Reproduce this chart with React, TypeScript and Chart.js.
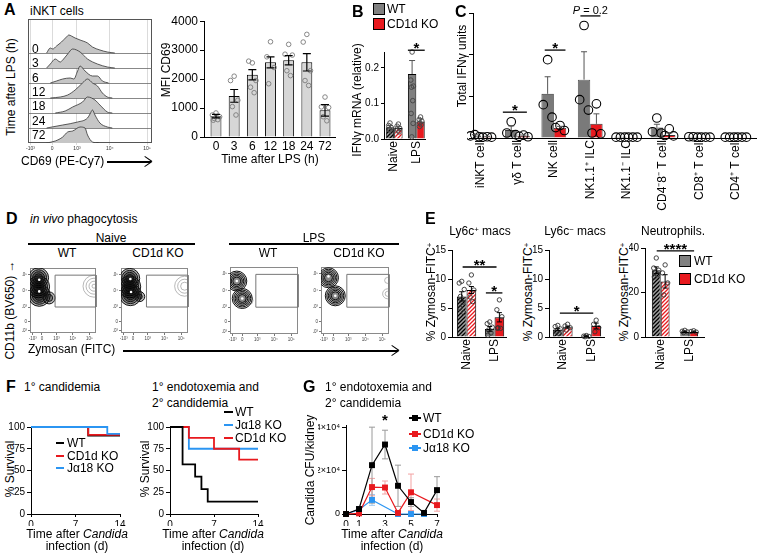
import React, { useEffect, useRef } from "react";
import { Chart, registerables } from "chart.js";

Chart.register(...registerables);

const FONT = "'Liberation Sans', Arial, Helvetica, sans-serif";
Chart.defaults.font.family = FONT;
Chart.defaults.color = "#000";

/* ============================ DATA ============================ */

// Panel A (left): CD69 histograms, x = position on CD69 axis (0-100), h = height
const HIST_LABELS = ["0", "3", "6", "12", "18", "24", "72"];
const HIST_0H_X = [15, 18, 20, 23, 27, 31, 33, 35, 38, 42, 48, 52, 58, 64, 70];
const HIST_0H_H = [0, 5, 4, 7, 11, 16, 18, 17, 15, 13, 10, 6, 3, 1, 0];
const HIST_3H_X = [15, 18, 22, 26, 28, 32, 36, 42, 48, 56, 64, 70];
const HIST_3H_H = [0, 4, 9, 6, 8, 14, 19, 16, 9, 4, 1, 0];
const HIST_6H_X = [18, 23, 28, 34, 37, 40, 42, 46, 52, 56, 60, 65];
const HIST_6H_H = [0, 2, 4, 5, 4, 12, 17, 12, 7, 7, 2, 0];
const HIST_12H_X = [18, 26, 32, 38, 44, 48, 52, 56, 60, 64, 68];
const HIST_12H_H = [0, 1, 3, 8, 15, 19, 15, 12, 5, 1, 0];
const HIST_18H_X = [22, 30, 36, 44, 48, 54, 58, 64, 68];
const HIST_18H_H = [0, 2, 6, 11, 16, 13, 8, 1, 0];
const HIST_24H_X = [15, 28, 40, 48, 50, 52, 54, 58, 64, 68];
const HIST_24H_H = [0, 3, 6, 10, 14, 18, 13, 5, 1, 0];
const HIST_72H_X = [15, 22, 28, 32, 36, 42, 46, 48, 52, 57];
const HIST_72H_H = [0, 2, 6, 11, 12, 16, 15, 8, 1, 0];
const HIST_TICKS = [2, 19.5, 39.5, 66, 96];
const HIST_TICK_LABELS = ["-10³", "0", "10³", "10⁴", "10⁵"];

// Panel A (right): MFI CD69
const A_TIMES = ["0", "3", "6", "12", "18", "24", "72"];
const A_MEAN = [720, 1420, 2150, 2580, 2650, 2580, 920];
const A_SEM = [60, 220, 180, 190, 160, 300, 200];
const A_PTS = [
  [830, 760, 700, 640, 600, 580],
  [2100, 1950, 1270, 1050, 760],
  [2560, 2620, 1950, 1720, 1530],
  [3290, 2770, 2400, 1840],
  [3200, 2860, 2830, 2290, 2120],
  [3545, 3280, 2290, 1950, 1780],
  [1380, 1040, 1020, 700, 560],
];
const A_Y_TICKS = [0, 1000, 2000, 3000, 4000];

// Panel B: IFNγ mRNA
const B_GROUPS = ["Naive", "LPS"];
const B_WT_MEAN = [0.033, 0.183];
const B_WT_SEM = [0.005, 0.038];
const B_KO_MEAN = [0.031, 0.049];
const B_KO_SEM = [0.004, 0.008];
const B_WT_PTS = [
  [0.045, 0.038, 0.032, 0.027, 0.022],
  [0.245, 0.166, 0.149, 0.146, 0.108, 0.072, 0.044, 0.006],
];
const B_KO_PTS = [
  [0.042, 0.036, 0.03, 0.025, 0.02],
  [0.062, 0.055, 0.05, 0.045, 0.04, 0.035],
];
const B_Y_TICKS = [0, 0.1, 0.2];
const B_SIG = [{ from: 0.62, to: 1.38, y: 0.25, label: "*" }];

// Panel C: total IFNγ units
const C_CELLS = ["iNKT cell", "γδ T cell", "NK cell", "NK1.1⁺ ILC", "NK1.1⁻ ILC", "CD4⁻8⁻ T cell", "CD8⁺ T cell", "CD4⁺ T cell"];
const C_WT_MEAN = [0.06, 0.19, 1.06, 1.4, 0.03, 0.25, 0.03, 0.02];
const C_WT_SEM = [0.02, 0.1, 0.41, 0.67, 0, 0.08, 0, 0];
const C_KO_MEAN = [0.03, 0.05, 0.24, 0.34, 0.02, 0.07, 0.02, 0.02];
const C_KO_SEM = [0.01, 0.02, 0.04, 0.24, 0, 0.05, 0, 0];
const C_WT_PTS = [[0.08, 0.05, 0.03], [0.39, 0.12, 0.08], [1.88, 0.8, 0.5], [2.7, 0.92, 0.67], [0.02, 0.02, 0.02], [0.48, 0.15, 0.12], [0.03, 0.03, 0.02], [0.02, 0.02, 0.02]];
const C_KO_PTS = [[0.03, 0.02, 0.02], [0.07, 0.04, 0.03], [0.3, 0.25, 0.18], [0.82, 0.12, 0.1], [0.02, 0.02, 0.02], [0.22, 0.06, 0.05], [0.02, 0.02, 0.02], [0.02, 0.02, 0.02]];
const C_Y_TICKS = [0, 1, 2, 3];
const C_SIG = [
  { from: 0.6, to: 1.26, y: 0.62, label: "*" },
  { from: 1.75, to: 2.32, y: 2.11, label: "*" },
  { from: 2.73, to: 3.28, y: 2.93, label: "P = 0.2" },
];

// Panel D: flow contour levels (x, y in 0-100 plot units, r = contour radius)
const D_GATE_X = [38, 100];
const D_GATE_Y = [40, 89];
const D_TICKS = [4, 18, 40, 65, 90];
const D_TICK_LABELS = ["-10³", "0", "10³", "10⁴", "10⁵"];
const D_NAIVE_WT = [
  { x: 13, y: 85, r: 10 }, { x: 13, y: 85, r: 8 }, { x: 13, y: 85, r: 6 }, { x: 13, y: 85, r: 4 },
  { x: 13, y: 71, r: 11 }, { x: 13, y: 71, r: 9 }, { x: 13, y: 71, r: 7 }, { x: 13, y: 71, r: 5 },
  { x: 14, y: 58, r: 11 }, { x: 14, y: 58, r: 9 }, { x: 14, y: 58, r: 7 }, { x: 14, y: 58, r: 5 },
  { x: 29, y: 54, r: 6 }, { x: 29, y: 54, r: 3.5 },
];
const D_NAIVE_WT_FAINT = [{ x: 97, y: 72, r: 11 }, { x: 97, y: 72, r: 8 }, { x: 97, y: 72, r: 5 }, { x: 97, y: 72, r: 2 }];
const D_NAIVE_WT_PEAKS = [{ x: 14, y: 82 }, { x: 14, y: 64 }];
const D_NAIVE_KO = [
  { x: 13, y: 84, r: 10 }, { x: 13, y: 84, r: 8 }, { x: 13, y: 84, r: 6 }, { x: 13, y: 84, r: 4 },
  { x: 13, y: 71, r: 11 }, { x: 13, y: 71, r: 9 }, { x: 13, y: 71, r: 7 }, { x: 13, y: 71, r: 5 },
  { x: 14, y: 59, r: 11 }, { x: 14, y: 59, r: 9 }, { x: 14, y: 59, r: 7 }, { x: 14, y: 59, r: 5 },
  { x: 28, y: 56, r: 5 }, { x: 28, y: 56, r: 2.5 },
];
const D_NAIVE_KO_FAINT = [{ x: 95, y: 72, r: 10 }, { x: 95, y: 72, r: 7 }, { x: 95, y: 72, r: 4 }];
const D_NAIVE_KO_PEAKS = [{ x: 14, y: 83 }, { x: 15, y: 63 }];
const D_LPS_WT = [
  { x: 10, y: 79, r: 10 }, { x: 10, y: 79, r: 8.5 }, { x: 10, y: 79, r: 7 }, { x: 10, y: 79, r: 5.5 }, { x: 10, y: 79, r: 4 },
  { x: 18, y: 53, r: 10 }, { x: 18, y: 53, r: 8.5 }, { x: 18, y: 53, r: 7 }, { x: 18, y: 53, r: 5.5 }, { x: 18, y: 53, r: 4 },
];
const D_LPS_WT_FAINT = [{ x: 28, y: 50, r: 4 }];
const D_LPS_WT_PEAKS = [{ x: 10, y: 79 }, { x: 18, y: 53 }];
const D_LPS_KO = [
  { x: 11, y: 84, r: 10 }, { x: 11, y: 84, r: 8.5 }, { x: 11, y: 84, r: 7 }, { x: 11, y: 84, r: 5.5 }, { x: 11, y: 84, r: 4 },
  { x: 21, y: 57, r: 10 }, { x: 21, y: 57, r: 8.5 }, { x: 21, y: 57, r: 7 }, { x: 21, y: 57, r: 5.5 }, { x: 21, y: 57, r: 4 },
];
const D_LPS_KO_FAINT = [{ x: 98, y: 60, r: 5 }, { x: 98, y: 60, r: 2.5 }, { x: 98, y: 80, r: 3 }];
const D_LPS_KO_PEAKS = [{ x: 11, y: 86 }, { x: 21, y: 57 }];

// Panel E: % Zymosan-FITC+
const E_GROUPS = ["Naive", "LPS"];
const E1_WT_MEAN = [7.0, 1.4];
const E1_WT_SEM = [0.8, 0.4];
const E1_KO_MEAN = [8.1, 3.4];
const E1_KO_SEM = [0.6, 0.8];
const E1_WT_PTS = [[9.6, 9.3, 8.2, 7.0, 6.0, 5.0, 4.2], [2.6, 2.3, 1.7, 1.2, 0.7, 0.3]];
const E1_KO_PTS = [[10.7, 9.3, 8.1, 6.9, 6.1], [6.4, 4.7, 3.5, 1.6, 1.5, 1.5]];
const E1_SIG = [
  { from: -0.14, to: 1.07, y: 12.07, label: "**" },
  { from: 0.69, to: 1.28, y: 7.6, label: "*" },
];
const E2_WT_MEAN = [1.3, 0.15];
const E2_WT_SEM = [0.2, 0.05];
const E2_KO_MEAN = [1.7, 1.9];
const E2_KO_SEM = [0.15, 0.5];
const E2_WT_PTS = [[2.0, 1.8, 1.4, 1.0, 0.6], [0.25, 0.15, 0.1, 0.05]];
const E2_KO_PTS = [[2.2, 1.9, 1.6, 1.2], [2.9, 2.2, 1.6, 0.9]];
const E2_SIG = [{ from: -0.1, to: 1.07, y: 4.1, label: "*" }];
const E3_WT_MEAN = [30, 2.3];
const E3_WT_SEM = [1.5, 0.3];
const E3_KO_MEAN = [25, 2.3];
const E3_KO_SEM = [3, 0.3];
const E3_WT_PTS = [[35.5, 31, 30, 29, 28, 27], [3, 2.6, 2.3, 2]];
const E3_KO_PTS = [[32.4, 28.8, 24.3, 18.9], [2.8, 2.5, 2.2]];
const E3_SIG = [{ from: -0.14, to: 1.17, y: 38.7, label: "****" }];
const E12_Y_TICKS = [0, 5, 10, 15];
const E3_Y_TICKS = [0, 20, 40];

// Panel F: survival (event day, % survival)
const F_DAY_TICKS = [0, 7, 14];
const F_Y_TICKS = [0, 25, 50, 75, 100];
const F1_WT_T = [0, 9, 14];
const F1_WT_S = [100, 90, 90];
const F1_CD1D_T = [0, 9, 14];
const F1_CD1D_S = [100, 91, 91];
const F1_JA18_T = [0, 12, 14];
const F1_JA18_S = [100, 92, 92];
const F2_WT_T = [0, 2, 4, 5, 6, 14];
const F2_WT_S = [100, 57.1, 42.9, 28.6, 14.3, 14.3];
const F2_CD1D_T = [0, 3, 7, 11, 14];
const F2_CD1D_S = [100, 87.5, 75, 62.5, 62.5];
const F2_JA18_T = [0, 3, 14];
const F2_JA18_S = [100, 75, 75];

// Panel G: Candida CFU / kidney
const G_DAYS = [0, 1, 2, 3, 4, 5, 6, 7];
const G_DAY_TICKS = [0, 1, 3, 5, 7];
const G_Y_TICKS = [0, 20000, 40000];
const G_WT = [0, 2300, 22500, 32000, 13000, 5500, 500, 11000];
const G_WT_ERR = [0, 800, 17500, 6600, 9500, 2000, 300, 6200];
const G_CD1D = [0, 300, 12400, 12200, 500, 10000, null, 4100];
const G_CD1D_ERR = [0, 300, 4000, 3000, 800, 8400, null, 2800];
const G_JA18 = [0, 2000, 6500, null, 0, 0, 0, null];
const G_JA18_ERR = [0, 500, 2500, null, 200, 200, 200, null];
const G_SIG = [{ from: 3, to: 3, y: 42300, label: "*" }];

/* ============================ STYLE ============================ */
const WT_GRAY = "#808080";
const KO_RED = "#e8191e";
const BLUE = "#2b95f2";
const ROW_STEP = 15;
const JIT = [0, -1, 1, -0.5, 0.5, -0.75, 0.75, -0.25, 0.25];

function jitterPoints(pts: number[][], off: number, spread: number) {
  const out: any[] = [];
  pts.forEach((arr, i) => arr.forEach((v, k) => out.push({ x: i + off + JIT[k % JIT.length] * spread, y: v })));
  return out;
}

function hatch(ctx: CanvasRenderingContext2D, line: string, bg: string) {
  const s = 4;
  const c = document.createElement("canvas");
  c.width = s;
  c.height = s;
  const g = c.getContext("2d")!;
  g.fillStyle = bg;
  g.fillRect(0, 0, s, s);
  g.strokeStyle = line;
  g.lineWidth = 1.3;
  g.beginPath();
  g.moveTo(0, s);
  g.lineTo(s, 0);
  g.moveTo(-1, 1);
  g.lineTo(1, -1);
  g.moveTo(s - 1, s + 1);
  g.lineTo(s + 1, s - 1);
  g.stroke();
  return ctx.createPattern(c, "repeat");
}

/* ============================ PLUGINS ============================ */
function makeErr(when: "before" | "after") {
  const draw = (chart: any) => {
    const ctx = chart.ctx;
    chart.data.datasets.forEach((ds: any, di: number) => {
      if (!ds.errors) return;
      const meta = chart.getDatasetMeta(di);
      const ys = chart.scales[meta.yAxisID];
      ctx.save();
      ctx.strokeStyle = ds.errColor || "#000";
      ctx.lineWidth = ds.errWidth || 1;
      meta.data.forEach((el: any, i: number) => {
        const raw = ds.data[i];
        const v = raw == null ? null : typeof raw === "number" ? raw : raw.y;
        const e = ds.errors[i];
        if (v == null || e == null || !e) return;
        const x = el.x;
        const cap = ds.errCap ?? 3;
        const yt = ys.getPixelForValue(v + e);
        const yb = ys.getPixelForValue(ds.errUpOnly ? v : Math.max(v - e, ys.min));
        ctx.beginPath();
        ctx.moveTo(x, yt);
        ctx.lineTo(x, yb);
        ctx.moveTo(x - cap, yt);
        ctx.lineTo(x + cap, yt);
        if (!ds.errUpOnly) {
          ctx.moveTo(x - cap, yb);
          ctx.lineTo(x + cap, yb);
        }
        ctx.stroke();
      });
      ctx.restore();
    });
  };
  return when === "before" ? { id: "errb", beforeDatasetsDraw: draw } : { id: "erra", afterDatasetsDraw: draw };
}

function makeSig(items: any[]) {
  return {
    id: "sig",
    afterDatasetsDraw(chart: any) {
      const xs = chart.scales.x;
      const ys = chart.scales.y;
      const ctx = chart.ctx;
      ctx.save();
      items.forEach((it) => {
        const x1 = xs.getPixelForValue(it.from);
        const x2 = xs.getPixelForValue(it.to);
        const y = ys.getPixelForValue(it.y);
        if (it.from !== it.to) {
          ctx.strokeStyle = "#000";
          ctx.lineWidth = 1.3;
          ctx.beginPath();
          ctx.moveTo(x1, y);
          ctx.lineTo(x2, y);
          ctx.stroke();
        }
        ctx.fillStyle = "#000";
        ctx.textBaseline = "alphabetic";
        const cx = (x1 + x2) / 2;
        if (it.label.startsWith("P")) {
          ctx.font = `italic 11px ${FONT}`;
          const wP = ctx.measureText("P").width;
          ctx.font = `11px ${FONT}`;
          const wR = ctx.measureText(" = 0.2").width;
          const start = cx - (wP + wR) / 2;
          ctx.textAlign = "left";
          ctx.font = `italic 11px ${FONT}`;
          ctx.fillText("P", start, y - 2);
          ctx.font = `11px ${FONT}`;
          ctx.fillText(" = 0.2", start + wP, y - 2);
        } else {
          ctx.font = `bold 15px ${FONT}`;
          ctx.textAlign = "center";
          ctx.fillText(it.label, cx, y + 3);
        }
      });
      ctx.restore();
    },
  };
}

function makeFrame(color: string, lw: number, rows = 0) {
  return {
    id: "frame",
    beforeDatasetsDraw(chart: any) {
      const { ctx, chartArea: a } = chart;
      ctx.save();
      ctx.strokeStyle = color;
      ctx.lineWidth = lw;
      ctx.strokeRect(a.left + 0.5, a.top + 0.5, a.width - 1, a.height - 1);
      if (rows) {
        ctx.strokeStyle = "#6a6a6a";
        ctx.lineWidth = 0.8;
        for (let r = 1; r < rows; r++) {
          const y = Math.round(chart.scales.y.getPixelForValue(r * ROW_STEP)) + 0.5;
          ctx.beginPath();
          ctx.moveTo(a.left, y);
          ctx.lineTo(a.right, y);
          ctx.stroke();
        }
      }
      ctx.restore();
    },
  };
}

/* ============================ SCALE HELPERS ============================ */
const baseOpts = (padding: any) => ({
  animation: false,
  responsive: false,
  events: [],
  layout: { padding },
  plugins: { legend: { display: false }, tooltip: { enabled: false } },
});

function yAxis(min: number, max: number, ticks: number[], wy: number, size: number, fmt: (v: number) => string, show = true, tickLen = 4) {
  return {
    type: "linear",
    min,
    max,
    afterBuildTicks: (s: any) => {
      s.ticks = ticks.map((v) => ({ value: v }));
    },
    afterFit: (s: any) => {
      s.width = wy;
    },
    ticks: { display: show, font: { size }, color: "#000", padding: 2, callback: (v: any) => fmt(v) },
    grid: { drawOnChartArea: false, tickLength: tickLen, color: "#000", lineWidth: 1 },
    border: { color: "#000", width: 1 },
  };
}

function xLinear(min: number, max: number, ticks: number[], hx: number, size: number, fmt: (v: number) => string, rot = 0, tickMarks = false) {
  return {
    type: "linear",
    offset: false,
    min,
    max,
    afterBuildTicks: (s: any) => {
      s.ticks = ticks.map((v) => ({ value: v }));
    },
    afterFit: (s: any) => {
      s.height = hx;
    },
    ticks: { font: { size }, color: "#000", padding: 2, minRotation: rot, maxRotation: rot, autoSkip: false, callback: (v: any) => fmt(v) },
    grid: tickMarks
      ? { drawOnChartArea: false, tickLength: 3, color: "#000" }
      : { display: false, drawTicks: false },
    border: { color: "#000", width: 1 },
  };
}

/* ============================ CONFIGS ============================ */
function histConfig(padding: any, hx: number) {
  const rows = [
    [HIST_0H_X, HIST_0H_H],
    [HIST_3H_X, HIST_3H_H],
    [HIST_6H_X, HIST_6H_H],
    [HIST_12H_X, HIST_12H_H],
    [HIST_18H_X, HIST_18H_H],
    [HIST_24H_X, HIST_24H_H],
    [HIST_72H_X, HIST_72H_H],
  ];
  const n = rows.length;
  return {
    type: "line",
    data: {
      datasets: rows.map(([xs, hs], r) => {
        const base = (n - 1 - r) * ROW_STEP;
        return {
          data: xs.map((x, k) => ({ x, y: base + hs[k] })),
          fill: { value: base },
          backgroundColor: "#c6c6c6",
          borderColor: "#333",
          borderWidth: 0.8,
          pointRadius: 0,
          cubicInterpolationMode: "monotone",
          order: n - 1 - r,
        };
      }),
    },
    options: {
      ...baseOpts(padding),
      scales: {
        x: {
          type: "linear",
          min: 0,
          max: 100,
          afterBuildTicks: (s: any) => {
            s.ticks = HIST_TICKS.map((v) => ({ value: v }));
          },
          afterFit: (s: any) => {
            s.height = hx;
          },
          ticks: { callback: (_v: any, i: number) => HIST_TICK_LABELS[i], font: { size: 5 }, color: "#333", padding: 1, maxRotation: 0, autoSkip: false },
          grid: { color: "#d2d2d2", lineWidth: 0.8, tickLength: 2 },
          border: { display: false },
        },
        y: { type: "linear", display: false, min: 0, max: 124 },
      },
    },
    plugins: [makeFrame("#555", 1, n)],
  };
}

function barConfig(o: any) {
  const datasets: any[] = [];
  const ng = o.groups.length;
  o.groups.forEach((g: any) => {
    datasets.push({
      type: "bar",
      data: g.mean.map((v: number, i: number) => ({ x: i, y: v })),
      errors: g.sem,
      errColor: o.errColor,
      errUpOnly: o.errUpOnly,
      errCap: o.errCap,
      errWidth: o.errWidth || 1,
      backgroundColor: g.fill,
      borderColor: g.border || "#000",
      borderWidth: o.barBorder ?? 1,
      barPercentage: o.barPct ?? 1,
      categoryPercentage: o.catPct,
      order: 3,
    });
  });
  o.groups.forEach((g: any, gi: number) => {
    const off = ng === 1 ? 0 : gi === 0 ? -o.catPct / 4 : o.catPct / 4;
    datasets.push({
      type: "scatter",
      data: jitterPoints(g.pts, off, o.spread),
      pointRadius: o.ptR,
      pointBorderColor: o.ptColor,
      pointBackgroundColor: "rgba(0,0,0,0)",
      pointBorderWidth: o.ptW,
      clip: false,
      order: 1,
    });
  });
  return {
    type: "bar",
    data: { datasets },
    options: {
      ...baseOpts(o.padding),
      scales: {
        x: xLinear(o.xMin, o.xMax, o.labels.map((_: any, i: number) => i), o.hx, o.xFont, (v) => o.labels[v], o.rot),
        y: yAxis(o.yMin, o.yMax, o.yTicks, o.wy, o.yFont, o.yFmt, o.yLabels !== false, o.yTickLen ?? 4),
      },
    },
    plugins: [makeErr("after"), makeSig(o.sig || [])],
  };
}

function flowConfig(padding: any, wy: number, hx: number, rings: any[], faint: any[], peaks: any[], alpha: number) {
  const gate = [
    { x: D_GATE_X[0], y: D_GATE_Y[0] },
    { x: D_GATE_X[0], y: D_GATE_Y[1] },
    { x: D_GATE_X[1], y: D_GATE_Y[1] },
    { x: D_GATE_X[1], y: D_GATE_Y[0] },
    { x: D_GATE_X[0], y: D_GATE_Y[0] },
  ];
  const tinyAxis = (isX: boolean) => ({
    type: "linear",
    min: 0,
    max: 100,
    afterBuildTicks: (s: any) => {
      s.ticks = D_TICKS.map((v) => ({ value: v }));
    },
    afterFit: (s: any) => {
      if (isX) s.height = hx;
      else s.width = wy;
    },
    ticks: { callback: (_v: any, i: number) => D_TICK_LABELS[i], font: { size: 4.5 }, color: "#444", padding: 1, maxRotation: 0, autoSkip: false },
    grid: { drawOnChartArea: false, tickLength: 2, color: "#777" },
    border: { display: false },
  });
  return {
    type: "bubble",
    data: {
      datasets: [
        { type: "line", data: gate, borderColor: "#777", borderWidth: 1, pointRadius: 0, fill: false, clip: false, order: 0 },
        { type: "bubble", data: rings, backgroundColor: `rgba(0,0,0,${alpha})`, borderColor: "#111", borderWidth: 1, clip: 0, order: 2 },
        { type: "bubble", data: faint, backgroundColor: "rgba(0,0,0,0)", borderColor: "#9a9a9a", borderWidth: 0.7, clip: 0, order: 3 },
        { type: "scatter", data: peaks, pointRadius: 1.3, pointBackgroundColor: "#fff", pointBorderWidth: 0, clip: 0, order: 1 },
      ],
    },
    options: { ...baseOpts(padding), scales: { x: tinyAxis(true), y: tinyAxis(false) } },
    plugins: [makeFrame("#8a8a8a", 1)],
  };
}

function survConfig(padding: any, wy: number, hx: number, series: any[]) {
  return {
    type: "line",
    data: {
      datasets: series.map((sr) => ({
        data: sr.t.map((t: number, k: number) => ({ x: t, y: sr.s[k] })),
        borderColor: sr.color,
        borderWidth: 1.8,
        pointRadius: 0,
        stepped: "before",
        fill: false,
        clip: false,
        order: sr.order,
      })),
    },
    options: {
      ...baseOpts(padding),
      scales: {
        x: xLinear(0, 14, F_DAY_TICKS, hx, 10, (v) => String(v), 0, true),
        y: yAxis(0, 100, F_Y_TICKS, wy, 10, (v) => String(v)),
      },
    },
  };
}

function gConfig(padding: any, wy: number, hx: number) {
  const mk = (vals: any[], errs: any[], color: string, errColor: string, order: number) => ({
    type: "line",
    data: G_DAYS.map((d, k) => ({ x: d, y: vals[k] })),
    errors: errs,
    errColor,
    errCap: 3,
    borderColor: color,
    backgroundColor: color,
    borderWidth: 1.2,
    pointStyle: "rect",
    pointRadius: 4.2,
    pointBackgroundColor: color,
    pointBorderColor: color,
    pointBorderWidth: 0,
    spanGaps: true,
    clip: false,
    order,
  });
  return {
    type: "line",
    data: {
      datasets: [
        mk(G_JA18, G_JA18_ERR, BLUE, "#9cc8f2", 2),
        mk(G_CD1D, G_CD1D_ERR, KO_RED, "#f3a3a3", 1),
        mk(G_WT, G_WT_ERR, "#000", "#9a9a9a", 0),
      ],
    },
    options: {
      ...baseOpts(padding),
      scales: {
        x: xLinear(0, 7, G_DAY_TICKS, hx, 10, (v) => String(v), 0, true),
        y: yAxis(0, 41000, G_Y_TICKS, wy, 9, (v) => (v === 0 ? "0" : `${v / 10000}×10⁴`)),
      },
    },
    plugins: [makeErr("before"), makeSig(G_SIG)],
  };
}

/* ============================ COMPONENTS ============================ */
function ChartBox({ area, wy, hx, pad, make }: any) {
  const ref = useRef<HTMLCanvasElement>(null);
  const left = area.l - wy - pad.l;
  const top = area.t - pad.t;
  const width = area.r + pad.r - left;
  const height = area.b + hx + pad.b - top;
  useEffect(() => {
    const cv = ref.current!;
    const padding = { left: pad.l, top: pad.t, right: pad.r, bottom: pad.b };
    const chart = new Chart(cv, make(cv.getContext("2d"), padding, wy, hx));
    return () => chart.destroy();
  }, []);
  return <canvas ref={ref} width={width} height={height} style={{ position: "absolute", left, top, width, height }} />;
}

function T({ x, y, s = 12, b, i, a = "l", children }: any) {
  const tx = a === "c" ? "-50%" : a === "r" ? "-100%" : "0";
  return (
    <div
      style={{
        position: "absolute",
        left: x,
        top: y,
        transform: `translate(${tx}, -50%)`,
        fontSize: s,
        fontWeight: b ? 700 : 400,
        fontStyle: i ? "italic" : "normal",
        whiteSpace: "nowrap",
        lineHeight: 1,
        fontFamily: FONT,
      }}
    >
      {children}
    </div>
  );
}

function VT({ x, y, s = 12, children }: any) {
  return (
    <div
      style={{
        position: "absolute",
        left: x,
        top: y,
        transform: "translate(-50%, -50%) rotate(-90deg)",
        fontSize: s,
        whiteSpace: "nowrap",
        lineHeight: 1,
        fontFamily: FONT,
      }}
    >
      {children}
    </div>
  );
}

const Sup = ({ children }: any) => <span style={{ fontSize: "0.65em", verticalAlign: "0.45em", lineHeight: 0 }}>{children}</span>;

function HLine({ x1, x2, y, w = 1.2, c = "#000" }: any) {
  return <div style={{ position: "absolute", left: x1, top: y - w / 2, width: x2 - x1, height: w, background: c }} />;
}

function Arrow({ x1, x2, y }: any) {
  return (
    <>
      <HLine x1={x1} x2={x2} y={y} w={1.2} />
      <div style={{ position: "absolute", left: x2 - 8, top: y - 0.6, width: 9, height: 1.2, background: "#000", transformOrigin: "100% 50%", transform: "rotate(35deg)" }} />
      <div style={{ position: "absolute", left: x2 - 8, top: y - 0.6, width: 9, height: 1.2, background: "#000", transformOrigin: "100% 50%", transform: "rotate(-35deg)" }} />
    </>
  );
}

function Swatch({ x, y, color }: any) {
  return <div style={{ position: "absolute", left: x, top: y, width: 10, height: 10, background: color, border: "1px solid #000" }} />;
}

function Dash({ x, y, color, w = 8 }: any) {
  return <div style={{ position: "absolute", left: x, top: y - 1, width: w, height: 2, background: color }} />;
}

function SqMark({ x, y, color }: any) {
  return (
    <>
      <div style={{ position: "absolute", left: x - 6, top: y - 0.6, width: 12, height: 1.2, background: color }} />
      <div style={{ position: "absolute", left: x - 3, top: y - 3, width: 6, height: 6, background: color }} />
    </>
  );
}

/* ============================ APP ============================ */
export default function App() {
  const yNum = (v: number) => String(v);
  const pairGroups = (wm: number[], ws: number[], wp: number[][], km: number[], ks: number[], kp: number[][], ctx: any, hatchNaive: boolean) => [
    { mean: wm, sem: ws, pts: wp, fill: hatchNaive ? [hatch(ctx, "#000", "#a0a0a0"), WT_GRAY] : WT_GRAY },
    { mean: km, sem: ks, pts: kp, fill: hatchNaive ? [hatch(ctx, KO_RED, "#ffffff"), KO_RED] : KO_RED },
  ];
  const eCfg = (ctx: any, padding: any, wy: number, hx: number, xMin: number, xMax: number, yMax: number, yTicks: number[], catPct: number, groups: any[], sig: any[]) =>
    barConfig({
      padding, wy, hx, xMin, xMax, labels: E_GROUPS, xFont: 12, rot: 90,
      yMin: 0, yMax, yTicks, yFont: 10, yFmt: yNum,
      groups, catPct, spread: 0.09, ptR: 2.2, ptColor: "#333", ptW: 0.9,
      errColor: "#000", errCap: 2.5, sig,
    });

  return (
    <div style={{ position: "fixed", left: 0, top: 0, width: 764, height: 557, background: "#fff", overflow: "hidden", fontFamily: FONT }}>
      {/* ---------------- Panel A ---------------- */}
      <T x={4} y={10} s={16} b>A</T>
      <T x={30} y={11}>iNKT cells</T>
      <VT x={11} y={87}>Time after LPS (h)</VT>
      <ChartBox area={{ l: 28, t: 19, r: 152, b: 143 }} wy={0} hx={9} pad={{ l: 8, t: 0, r: 6, b: 0 }} make={(_c: any, p: any, _wy: number, hx: number) => histConfig(p, hx)} />
      {HIST_LABELS.map((l, r) => (
        <T key={l} x={32} y={49 + r * 14.3}>{l}</T>
      ))}
      <T x={21} y={161}>CD69 (PE-Cy7)</T>
      <Arrow x1={107} x2={151} y={162} />

      <VT x={166} y={70}>MFI CD69</VT>
      <ChartBox
        area={{ l: 204, t: 20, r: 335, b: 137 }} wy={40} hx={18} pad={{ l: 2, t: 8, r: 8, b: 0 }}
        make={(_c: any, padding: any, wy: number, hx: number) =>
          barConfig({
            padding, wy, hx, xMin: -0.66, xMax: 6.55, labels: A_TIMES, xFont: 12, rot: 0,
            yMin: 0, yMax: 4000, yTicks: A_Y_TICKS, yFont: 12, yFmt: yNum,
            groups: [{ mean: A_MEAN, sem: A_SEM, pts: A_PTS, fill: "#d6d6d6" }],
            catPct: 1, barPct: 0.6, spread: 0.2, ptR: 2.3, ptColor: "#7a7a7a", ptW: 0.9,
            errColor: "#000", errCap: 4, errWidth: 1.2,
          })
        }
      />
      <T x={270} y={159} a="c">Time after LPS (h)</T>

      {/* ---------------- Panel B ---------------- */}
      <T x={352} y={12} s={16} b>B</T>
      <Swatch x={373} y={3} color={WT_GRAY} />
      <T x={387} y={9}>WT</T>
      <Swatch x={373} y={18} color={KO_RED} />
      <T x={387} y={24}>CD1d KO</T>
      <VT x={357} y={100}>IFNγ mRNA (relative)</VT>
      <ChartBox
        area={{ l: 384, t: 52, r: 428, b: 139 }} wy={22} hx={42} pad={{ l: 2, t: 16, r: 6, b: 0 }}
        make={(ctx: any, padding: any, wy: number, hx: number) =>
          barConfig({
            padding, wy, hx, xMin: -0.46, xMax: 1.4, labels: B_GROUPS, xFont: 12, rot: 90,
            yMin: 0, yMax: 0.245, yTicks: B_Y_TICKS, yFont: 10, yFmt: (v: number) => v.toFixed(1), yTickLen: 3,
            groups: pairGroups(B_WT_MEAN, B_WT_SEM, B_WT_PTS, B_KO_MEAN, B_KO_SEM, B_KO_PTS, ctx, true),
            catPct: 0.76, spread: 0.06, ptR: 2.3, ptColor: "#444", ptW: 0.9,
            errColor: "#555", errUpOnly: true, errCap: 3, sig: B_SIG,
          })
        }
      />

      {/* ---------------- Panel C ---------------- */}
      <T x={455} y={12} s={16} b>C</T>
      <VT x={462} y={66}>Total IFNγ units</VT>
      <ChartBox
        area={{ l: 473, t: 13, r: 758, b: 138 }} wy={6} hx={80} pad={{ l: 0, t: 12, r: 4, b: 0 }}
        make={(_c: any, padding: any, wy: number, hx: number) =>
          barConfig({
            padding, wy, hx, xMin: -0.22, xMax: 7.57, labels: C_CELLS, xFont: 12, rot: 90,
            yMin: 0, yMax: 3, yTicks: C_Y_TICKS, yFont: 10, yFmt: yNum, yLabels: false,
            groups: [
              { mean: C_WT_MEAN, sem: C_WT_SEM, pts: C_WT_PTS, fill: "#7a7a7a", border: "#333" },
              { mean: C_KO_MEAN, sem: C_KO_SEM, pts: C_KO_PTS, fill: KO_RED, border: "#333" },
            ],
            catPct: 0.68, spread: 0.12, ptR: 4.3, ptColor: "#000", ptW: 1.1, barBorder: 0.8,
            errColor: "#555", errUpOnly: true, errCap: 3, sig: C_SIG,
          })
        }
      />

      {/* ---------------- Panel D ---------------- */}
      <T x={6} y={219} s={16} b>D</T>
      <T x={30} y={219}><i>in vivo</i> phagocytosis</T>
      <T x={111} y={238} a="c">Naive</T>
      <HLine x1={28} x2={195} y={244} w={1.2} />
      <T x={67} y={253} a="c">WT</T>
      <T x={158} y={253} a="c">CD1d KO</T>
      <T x={314} y={238} a="c">LPS</T>
      <HLine x1={229} x2={399} y={244} w={1.2} />
      <T x={268} y={253} a="c">WT</T>
      <T x={359} y={253} a="c">CD1d KO</T>
      <VT x={10} y={310}>CD11b (BV650) →</VT>
      <ChartBox area={{ l: 28, t: 258, r: 106, b: 338 }} wy={8} hx={7} pad={{ l: 2, t: 2, r: 2, b: 0 }} make={(_c: any, p: any, wy: number, hx: number) => flowConfig(p, wy, hx, D_NAIVE_WT, D_NAIVE_WT_FAINT, D_NAIVE_WT_PEAKS, 0.3)} />
      <ChartBox area={{ l: 119, t: 258, r: 198, b: 338 }} wy={8} hx={7} pad={{ l: 2, t: 2, r: 2, b: 0 }} make={(_c: any, p: any, wy: number, hx: number) => flowConfig(p, wy, hx, D_NAIVE_KO, D_NAIVE_KO_FAINT, D_NAIVE_KO_PEAKS, 0.3)} />
      <ChartBox area={{ l: 229, t: 258, r: 307, b: 338 }} wy={8} hx={7} pad={{ l: 2, t: 2, r: 2, b: 0 }} make={(_c: any, p: any, wy: number, hx: number) => flowConfig(p, wy, hx, D_LPS_WT, D_LPS_WT_FAINT, D_LPS_WT_PEAKS, 0.12)} />
      <ChartBox area={{ l: 320, t: 258, r: 398, b: 338 }} wy={8} hx={7} pad={{ l: 2, t: 2, r: 2, b: 0 }} make={(_c: any, p: any, wy: number, hx: number) => flowConfig(p, wy, hx, D_LPS_KO, D_LPS_KO_FAINT, D_LPS_KO_PEAKS, 0.12)} />
      <T x={28} y={349}>Zymosan (FITC)</T>
      <Arrow x1={123} x2={398} y={351} />

      {/* ---------------- Panel E ---------------- */}
      <T x={425} y={219} s={16} b>E</T>
      <T x={480} y={231} a="c">Ly6c<Sup>+</Sup> macs</T>
      <T x={575} y={231} a="c">Ly6c<Sup>−</Sup> macs</T>
      <T x={673} y={231} a="c">Neutrophils.</T>
      <VT x={431} y={292}>% Zymosan-FITC<Sup>+</Sup></VT>
      <VT x={528} y={292}>% Zymosan-FITC<Sup>+</Sup></VT>
      <VT x={624} y={292}>% Zymosan-FITC<Sup>+</Sup></VT>
      <ChartBox
        area={{ l: 452, t: 250, r: 508, b: 337 }} wy={16} hx={40} pad={{ l: 2, t: 14, r: 4, b: 0 }}
        make={(ctx: any, p: any, wy: number, hx: number) => eCfg(ctx, p, wy, hx, -0.52, 1.41, 15, E12_Y_TICKS, 0.69, pairGroups(E1_WT_MEAN, E1_WT_SEM, E1_WT_PTS, E1_KO_MEAN, E1_KO_SEM, E1_KO_PTS, ctx, true), E1_SIG)}
      />
      <ChartBox
        area={{ l: 549, t: 250, r: 605, b: 337 }} wy={16} hx={40} pad={{ l: 2, t: 14, r: 4, b: 0 }}
        make={(ctx: any, p: any, wy: number, hx: number) => eCfg(ctx, p, wy, hx, -0.48, 1.45, 15, E12_Y_TICKS, 0.69, pairGroups(E2_WT_MEAN, E2_WT_SEM, E2_WT_PTS, E2_KO_MEAN, E2_KO_SEM, E2_KO_PTS, ctx, true), E2_SIG)}
      />
      <ChartBox
        area={{ l: 645, t: 248, r: 705, b: 337 }} wy={16} hx={40} pad={{ l: 2, t: 14, r: 4, b: 0 }}
        make={(ctx: any, p: any, wy: number, hx: number) => eCfg(ctx, p, wy, hx, -0.55, 1.52, 40, E3_Y_TICKS, 0.62, pairGroups(E3_WT_MEAN, E3_WT_SEM, E3_WT_PTS, E3_KO_MEAN, E3_KO_SEM, E3_KO_PTS, ctx, true), E3_SIG)}
      />
      <Swatch x={679} y={255} color={WT_GRAY} />
      <T x={694} y={261}>WT</T>
      <Swatch x={679} y={273} color={KO_RED} />
      <T x={694} y={279}>CD1d KO</T>

      {/* ---------------- Panel F ---------------- */}
      <T x={6} y={387} s={16} b>F</T>
      <T x={24} y={387}>1° candidemia</T>
      <VT x={10} y={469}>% Survival</VT>
      <ChartBox
        area={{ l: 31, t: 427, r: 120, b: 514 }} wy={22} hx={12} pad={{ l: 2, t: 8, r: 8, b: 0 }}
        make={(_c: any, p: any, wy: number, hx: number) =>
          survConfig(p, wy, hx, [
            { t: F1_WT_T, s: F1_WT_S, color: "#000", order: 2 },
            { t: F1_CD1D_T, s: F1_CD1D_S, color: KO_RED, order: 1 },
            { t: F1_JA18_T, s: F1_JA18_S, color: BLUE, order: 0 },
          ])
        }
      />
      <Dash x={56} y={443} color="#000" />
      <T x={67} y={443}>WT</T>
      <Dash x={56} y={456} color={KO_RED} />
      <T x={67} y={456}>CD1d KO</T>
      <Dash x={56} y={468} color={BLUE} />
      <T x={67} y={468}>Jα18 KO</T>
      <T x={77} y={534} a="c">Time after <i>Candida</i></T>
      <T x={77} y={546} a="c">infection (d)</T>

      <T x={152} y={387}>1° endotoxemia and</T>
      <T x={152} y={403}>2° candidemia</T>
      <VT x={145} y={469}>% Survival</VT>
      <ChartBox
        area={{ l: 170, t: 427, r: 258, b: 514 }} wy={22} hx={12} pad={{ l: 2, t: 8, r: 8, b: 0 }}
        make={(_c: any, p: any, wy: number, hx: number) =>
          survConfig(p, wy, hx, [
            { t: F2_JA18_T, s: F2_JA18_S, color: BLUE, order: 2 },
            { t: F2_CD1D_T, s: F2_CD1D_S, color: KO_RED, order: 1 },
            { t: F2_WT_T, s: F2_WT_S, color: "#000", order: 0 },
          ])
        }
      />
      <Dash x={224} y={412} color="#000" w={9} />
      <T x={235} y={412}>WT</T>
      <Dash x={224} y={425} color={BLUE} w={9} />
      <T x={235} y={425}>Jα18 KO</T>
      <Dash x={224} y={438} color={KO_RED} w={9} />
      <T x={235} y={438}>CD1d KO</T>
      <T x={213} y={534} a="c">Time after <i>Candida</i></T>
      <T x={213} y={546} a="c">infection (d)</T>

      {/* ---------------- Panel G ---------------- */}
      <T x={303} y={387} s={16} b>G</T>
      <T x={325} y={387}>1° endotoxemia and</T>
      <T x={325} y={403}>2° candidemia</T>
      <VT x={310} y={470}>Candida CFU/kidney</VT>
      <ChartBox area={{ l: 346, t: 425, r: 437, b: 514 }} wy={28} hx={12} pad={{ l: 2, t: 10, r: 6, b: 0 }} make={(_c: any, p: any, wy: number, hx: number) => gConfig(p, wy, hx)} />
      <SqMark x={415} y={418} color="#000" />
      <T x={423} y={418}>WT</T>
      <SqMark x={415} y={434} color={KO_RED} />
      <T x={423} y={434}>CD1d KO</T>
      <SqMark x={415} y={448} color={BLUE} />
      <T x={423} y={448}>Jα18 KO</T>
      <T x={392} y={534} a="c">Time after <i>Candida</i></T>
      <T x={392} y={546} a="c">infection (d)</T>
    </div>
  );
}
